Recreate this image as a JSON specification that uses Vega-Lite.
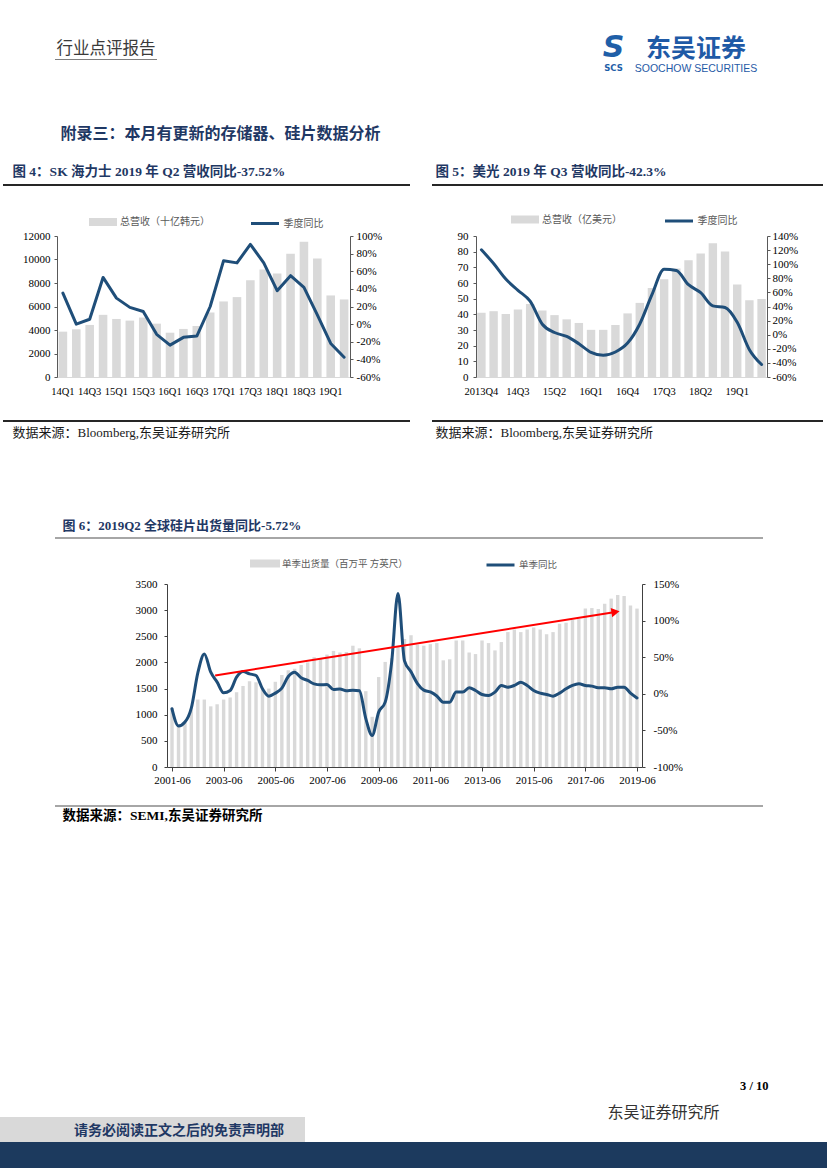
{
 "$schema": "https://vega.github.io/schema/vega-lite/v6.json",
 "background": "white",
 "padding": 0,
 "bounds": "full",
 "spacing": 0,
 "resolve": {"legend": {"fill": "independent", "stroke": "independent"}, "scale": {"fill": "independent", "stroke": "independent"}},
 "config": {"view": {"stroke": null}, "concat": {"spacing": 0}, "font": "Noto Sans CJK SC"},
 "vconcat": [
  {"width": 827, "height": 32, "data": {"values": []}, "mark": "point", "encoding": {}},
  {"hconcat": [
    {"width": 55, "height": 1, "data": {"values": []}, "mark": "point", "encoding": {}},
    {"width": 102, "height": 1, "view": {"fill": "#7f7f7f", "stroke": null}, "data": {"values": [{"t": "行业点评报告"}]}, "mark": {"type": "text", "align": "center", "baseline": "middle", "dy": -10.5, "font": "Noto Sans CJK SC", "fontSize": 16.5, "fill": "#3a3a3a"}, "encoding": {"text": {"field": "t"}}},
    {"width": 440, "height": 1, "data": {"values": []}, "mark": "point", "encoding": {}},
    {"width": 33, "height": 1, "layer": [
      {"data": {"values": [{"t": "S"}]}, "mark": {"type": "text", "align": "center", "baseline": "middle", "dy": -12, "font": "DejaVu Sans", "fontWeight": "bold", "fontStyle": "italic", "fontSize": 30, "fill": "#1f5fa8"}, "encoding": {"text": {"field": "t"}}},
      {"data": {"values": [{"t": "SCS"}]}, "mark": {"type": "text", "align": "center", "baseline": "middle", "dy": 8, "font": "DejaVu Sans", "fontWeight": "bold", "fontSize": 8.5, "fill": "#1f5fa8"}, "encoding": {"text": {"field": "t"}}}
    ]},
    {"width": 2, "height": 1, "data": {"values": []}, "mark": "point", "encoding": {}},
    {"width": 128, "height": 1, "layer": [
      {"data": {"values": [{"t": "东吴证券"}]}, "mark": {"type": "text", "align": "center", "baseline": "middle", "dy": -11, "font": "Noto Sans CJK SC", "fontWeight": "bold", "fontSize": 25, "fill": "#1f5aa6"}, "encoding": {"text": {"field": "t"}}},
      {"data": {"values": [{"t": "SOOCHOW SECURITIES"}]}, "mark": {"type": "text", "align": "center", "baseline": "middle", "dy": 9, "font": "Liberation Sans", "fontSize": 10.5, "fill": "#1f5aa6"}, "encoding": {"text": {"field": "t"}}}
    ]}
  ], "spacing": 0, "bounds": "flush"},
  {"width": 1, "height": 50.75, "data": {"values": []}, "mark": "point", "encoding": {}},
  {"hconcat": [
    {"width": 60, "height": 1, "data": {"values": []}, "mark": "point", "encoding": {}},
    {"width": 1, "height": 1, "data": {"values": [{"t": "附录三：本月有更新的存储器、硅片数据分析"}]}, "mark": {"type": "text", "align": "left", "baseline": "middle", "font": "Noto Sans CJK SC", "fontWeight": "bold", "fontSize": 16, "fill": "#1f3864"}, "encoding": {"text": {"field": "t"}}}
  ], "spacing": 0, "bounds": "flush"},
  {"width": 1, "height": 21.75, "data": {"values": []}, "mark": "point", "encoding": {}},
  {"hconcat": [
    {"width": 12, "height": 1, "data": {"values": []}, "mark": "point", "encoding": {}},
    {"width": 1, "height": 1, "data": {"values": [{"t": "图 4：SK 海力士 2019 年 Q2 营收同比-37.52%"}]}, "mark": {"type": "text", "align": "left", "baseline": "middle", "font": "Liberation Serif, Noto Sans CJK SC", "fontWeight": "bold", "fontSize": 13.5, "fill": "#1f3864"}, "encoding": {"text": {"field": "t"}}},
    {"width": 422, "height": 1, "data": {"values": []}, "mark": "point", "encoding": {}},
    {"width": 1, "height": 1, "data": {"values": [{"t": "图 5：美光 2019 年 Q3 营收同比-42.3%"}]}, "mark": {"type": "text", "align": "left", "baseline": "middle", "font": "Liberation Serif, Noto Sans CJK SC", "fontWeight": "bold", "fontSize": 13.5, "fill": "#1f3864"}, "encoding": {"text": {"field": "t"}}}
  ], "spacing": 0, "bounds": "flush"},
  {"width": 1, "height": 5.25, "data": {"values": []}, "mark": "point", "encoding": {}},
  {"hconcat": [
    {"width": 3, "height": 2, "data": {"values": []}, "mark": "point", "encoding": {}},
    {"width": 407, "height": 2, "view": {"fill": "#262626", "stroke": null}, "data": {"values": []}, "mark": "point", "encoding": {}},
    {"width": 22, "height": 2, "data": {"values": []}, "mark": "point", "encoding": {}},
    {"width": 391, "height": 2, "view": {"fill": "#262626", "stroke": null}, "data": {"values": []}, "mark": "point", "encoding": {}}
  ], "spacing": 0, "bounds": "flush"},
  {"width": 1, "height": 28, "data": {"values": []}, "mark": "point", "encoding": {}},
  {"hconcat": [
    {"width": 57, "height": 184, "data": {"values": []}, "mark": "point", "encoding": {}},
    {
     "width": 293, "height": 141,
     "data": {"values": [
      {"q": "14Q1", "rev": 3860, "yoy": 0.352},
      {"q": "14Q2", "rev": 4060, "yoy": 0.0},
      {"q": "14Q3", "rev": 4430, "yoy": 0.055},
      {"q": "14Q4", "rev": 5290, "yoy": 0.53},
      {"q": "15Q1", "rev": 4940, "yoy": 0.295},
      {"q": "15Q2", "rev": 4800, "yoy": 0.19},
      {"q": "15Q3", "rev": 5060, "yoy": 0.143},
      {"q": "15Q4", "rev": 4540, "yoy": -0.116},
      {"q": "16Q1", "rev": 3770, "yoy": -0.238},
      {"q": "16Q2", "rev": 4090, "yoy": -0.15},
      {"q": "16Q3", "rev": 4340, "yoy": -0.135},
      {"q": "16Q4", "rev": 5490, "yoy": 0.2},
      {"q": "17Q1", "rev": 6430, "yoy": 0.72},
      {"q": "17Q2", "rev": 6800, "yoy": 0.695},
      {"q": "17Q3", "rev": 8230, "yoy": 0.905},
      {"q": "17Q4", "rev": 9140, "yoy": 0.695},
      {"q": "18Q1", "rev": 8800, "yoy": 0.38},
      {"q": "18Q2", "rev": 10490, "yoy": 0.55},
      {"q": "18Q3", "rev": 11510, "yoy": 0.417},
      {"q": "18Q4", "rev": 10090, "yoy": 0.105},
      {"q": "19Q1", "rev": 6940, "yoy": -0.219},
      {"q": "19Q2", "rev": 6600, "yoy": -0.3752}
     ]},
     "encoding": {"x": {"field": "q", "type": "ordinal", "sort": null, "scale": {"paddingInner": 0.36, "paddingOuter": 0.12},
       "axis": {"title": null, "values": ["14Q1","14Q3","15Q1","15Q3","16Q1","16Q3","17Q1","17Q3","18Q1","18Q3","19Q1"], "labelAngle": 0, "labelFont": "Liberation Serif", "labelFontSize": 10.5, "labelColor": "#000000", "ticks": false, "tickSize": 0, "labelPadding": 9, "domainColor": "#d9d9d9", "labelOverlap": false}}},
     "layer": [
      {"mark": {"type": "bar"},
       "encoding": {
        "y": {"field": "rev", "type": "quantitative", "scale": {"domain": [0, 12000], "nice": false},
          "axis": {"title": null, "values": [0,2000,4000,6000,8000,10000,12000], "format": "d", "grid": false, "labelFont": "Liberation Serif", "labelFontSize": 11, "labelColor": "#000000", "domainColor": "#595959", "tickColor": "#595959", "tickSize": 3, "labelPadding": 4}},
        "fill": {"datum": "总营收（十亿韩元）", "type": "nominal", "scale": {"range": ["#d9d9d9"]},
          "legend": {"orient": "none", "legendX": 41, "legendY": -19, "title": null, "direction": "horizontal", "symbolType": "M-2.8,-0.8H2.8V0.8H-2.8Z", "symbolSize": 100, "symbolStrokeWidth": 0, "labelFont": "Noto Sans CJK SC", "labelFontSize": 10, "labelColor": "#595959", "labelOffset": 12, "padding": 0}}
       }},
      {"mark": {"type": "line", "strokeWidth": 3, "strokeJoin": "round", "strokeCap": "round"},
       "encoding": {
        "y": {"field": "yoy", "type": "quantitative", "scale": {"domain": [-0.6, 1], "nice": false},
          "axis": {"orient": "right", "title": null, "values": [-0.6,-0.4,-0.2,0,0.2,0.4,0.6,0.8,1], "labelExpr": "replace(format(datum.value, '.0%'), '−', '-')", "grid": false, "labelFont": "Liberation Serif", "labelFontSize": 11, "labelColor": "#000000", "domainColor": "#595959", "tickColor": "#595959", "tickSize": 3, "labelPadding": 3}},
        "stroke": {"datum": "季度同比", "type": "nominal", "scale": {"range": ["#1f4e79"]},
          "legend": {"orient": "none", "legendX": 201.5, "legendY": -19, "title": null, "direction": "horizontal", "symbolType": "M-2.8,0H2.8", "symbolSize": 100, "symbolStrokeWidth": 3, "labelFont": "Noto Sans CJK SC", "labelFontSize": 10, "labelColor": "#595959", "labelOffset": 12, "padding": 0}}
       }}
     ],
     "resolve": {"scale": {"y": "independent"}}
    },
    {"width": 126, "height": 1, "data": {"values": []}, "mark": "point", "encoding": {}},
    {
     "width": 291, "height": 141,
     "data": {"values": [
      {"q": "2013Q4", "rev": 41.0, "yoy": 1.204},
      {"q": "14Q1", "rev": 42.0, "yoy": 1.01},
      {"q": "14Q2", "rev": 40.2, "yoy": 0.79},
      {"q": "14Q3", "rev": 43.1, "yoy": 0.63},
      {"q": "14Q4", "rev": 46.6, "yoy": 0.475},
      {"q": "15Q1", "rev": 42.4, "yoy": 0.148},
      {"q": "15Q2", "rev": 39.5, "yoy": 0.031},
      {"q": "15Q3", "rev": 36.8, "yoy": -0.025},
      {"q": "15Q4", "rev": 34.5, "yoy": -0.128},
      {"q": "16Q1", "rev": 30.1, "yoy": -0.25},
      {"q": "16Q2", "rev": 30.1, "yoy": -0.292},
      {"q": "16Q3", "rev": 33.2, "yoy": -0.245},
      {"q": "16Q4", "rev": 40.6, "yoy": -0.119},
      {"q": "17Q1", "rev": 47.3, "yoy": 0.152},
      {"q": "17Q2", "rev": 56.8, "yoy": 0.568},
      {"q": "17Q3", "rev": 62.4, "yoy": 0.928},
      {"q": "17Q4", "rev": 69.2, "yoy": 0.91},
      {"q": "18Q1", "rev": 74.6, "yoy": 0.709},
      {"q": "18Q2", "rev": 78.8, "yoy": 0.596},
      {"q": "18Q3", "rev": 85.4, "yoy": 0.409},
      {"q": "18Q4", "rev": 80.1, "yoy": 0.386},
      {"q": "19Q1", "rev": 59.1, "yoy": 0.176},
      {"q": "19Q2", "rev": 49.0, "yoy": -0.212},
      {"q": "19Q3", "rev": 49.8, "yoy": -0.423}
     ]},
     "encoding": {"x": {"field": "q", "type": "ordinal", "sort": null, "scale": {"paddingInner": 0.31, "paddingOuter": 0.1},
       "axis": {"title": null, "values": ["2013Q4","14Q3","15Q2","16Q1","16Q4","17Q3","18Q2","19Q1"], "labelAngle": 0, "labelFont": "Liberation Serif", "labelFontSize": 10.5, "labelColor": "#000000", "ticks": false, "tickSize": 0, "labelPadding": 9, "domainColor": "#d9d9d9", "labelOverlap": false}}},
     "layer": [
      {"mark": {"type": "bar"},
       "encoding": {
        "y": {"field": "rev", "type": "quantitative", "scale": {"domain": [0, 90], "nice": false},
          "axis": {"title": null, "values": [0,10,20,30,40,50,60,70,80,90], "format": "d", "grid": false, "labelFont": "Liberation Serif", "labelFontSize": 11, "labelColor": "#000000", "domainColor": "#595959", "tickColor": "#595959", "tickSize": 3, "labelPadding": 5}},
        "fill": {"datum": "总营收（亿美元）", "type": "nominal", "scale": {"range": ["#d9d9d9"]},
          "legend": {"orient": "none", "legendX": 44, "legendY": -21.5, "title": null, "direction": "horizontal", "symbolType": "M-2.8,-0.8H2.8V0.8H-2.8Z", "symbolSize": 100, "symbolStrokeWidth": 0, "labelFont": "Noto Sans CJK SC", "labelFontSize": 10, "labelColor": "#595959", "labelOffset": 12, "padding": 0}}
       }},
      {"mark": {"type": "line", "strokeWidth": 3, "interpolate": "monotone", "strokeJoin": "round", "strokeCap": "round"},
       "encoding": {
        "y": {"field": "yoy", "type": "quantitative", "scale": {"domain": [-0.6, 1.4], "nice": false},
          "axis": {"orient": "right", "title": null, "values": [-0.6,-0.4,-0.2,0,0.2,0.4,0.6,0.8,1,1.2,1.4], "labelExpr": "replace(format(datum.value, '.0%'), '−', '-')", "grid": false, "labelFont": "Liberation Serif", "labelFontSize": 11, "labelColor": "#000000", "domainColor": "#595959", "tickColor": "#595959", "tickSize": 3, "labelPadding": 2}},
        "stroke": {"datum": "季度同比", "type": "nominal", "scale": {"range": ["#1f4e79"]},
          "legend": {"orient": "none", "legendX": 196.5, "legendY": -21.5, "title": null, "direction": "horizontal", "symbolType": "M-2.8,0H2.8", "symbolSize": 100, "symbolStrokeWidth": 3, "labelFont": "Noto Sans CJK SC", "labelFontSize": 10, "labelColor": "#595959", "labelOffset": 12, "padding": 0}}
       }}
     ],
     "resolve": {"scale": {"y": "independent"}}
    }
  ], "spacing": 0, "bounds": "flush", "resolve": {"legend": {"fill": "independent", "stroke": "independent"}, "scale": {"fill": "independent", "stroke": "independent"}}},
  {"hconcat": [
    {"width": 3, "height": 2, "data": {"values": []}, "mark": "point", "encoding": {}},
    {"width": 407, "height": 2, "view": {"fill": "#262626", "stroke": null}, "data": {"values": []}, "mark": "point", "encoding": {}},
    {"width": 22, "height": 2, "data": {"values": []}, "mark": "point", "encoding": {}},
    {"width": 391, "height": 2, "view": {"fill": "#262626", "stroke": null}, "data": {"values": []}, "mark": "point", "encoding": {}}
  ], "spacing": 0, "bounds": "flush"},
  {"width": 1, "height": 4, "data": {"values": []}, "mark": "point", "encoding": {}},
  {"hconcat": [
    {"width": 12, "height": 1, "data": {"values": []}, "mark": "point", "encoding": {}},
    {"width": 1, "height": 1, "data": {"values": [{"t": "数据来源：Bloomberg,东吴证券研究所"}]}, "mark": {"type": "text", "align": "left", "baseline": "middle", "font": "Liberation Serif, Noto Sans CJK SC", "fontSize": 13, "fill": "#1a1a1a"}, "encoding": {"text": {"field": "t"}}},
    {"width": 422, "height": 1, "data": {"values": []}, "mark": "point", "encoding": {}},
    {"width": 1, "height": 1, "data": {"values": [{"t": "数据来源：Bloomberg,东吴证券研究所"}]}, "mark": {"type": "text", "align": "left", "baseline": "middle", "font": "Liberation Serif, Noto Sans CJK SC", "fontSize": 13, "fill": "#1a1a1a"}, "encoding": {"text": {"field": "t"}}}
  ], "spacing": 0, "bounds": "flush"},
  {"width": 1, "height": 79, "data": {"values": []}, "mark": "point", "encoding": {}},
  {"hconcat": [
    {"width": 62, "height": 1, "data": {"values": []}, "mark": "point", "encoding": {}},
    {"width": 1, "height": 1, "data": {"values": [{"t": "图 6：2019Q2 全球硅片出货量同比-5.72%"}]}, "mark": {"type": "text", "align": "left", "baseline": "middle", "font": "Liberation Serif, Noto Sans CJK SC", "fontWeight": "bold", "fontSize": 13, "fill": "#1f3864"}, "encoding": {"text": {"field": "t"}}}
  ], "spacing": 0, "bounds": "flush"},
  {"width": 1, "height": 3.5, "data": {"values": []}, "mark": "point", "encoding": {}},
  {"hconcat": [
    {"width": 55, "height": 2, "data": {"values": []}, "mark": "point", "encoding": {}},
    {"width": 708, "height": 2, "view": {"fill": "#a6a6a6", "stroke": null}, "data": {"values": []}, "mark": "point", "encoding": {}}
  ], "spacing": 0, "bounds": "flush"},
  {"width": 1, "height": 19, "data": {"values": []}, "mark": "point", "encoding": {}},
  {"hconcat": [
    {"width": 167, "height": 221, "data": {"values": []}, "mark": "point", "encoding": {}},
    {
     "width": 475, "height": 183,
     "data": {"values": [
      {"t": "2001-06", "v": 1130, "yoy": -0.205},
      {"t": "2001-09", "v": 820, "yoy": -0.44},
      {"t": "2001-12", "v": 850, "yoy": -0.386},
      {"t": "2002-03", "v": 1100, "yoy": -0.195},
      {"t": "2002-06", "v": 1290, "yoy": 0.286},
      {"t": "2002-09", "v": 1290, "yoy": 0.545},
      {"t": "2002-12", "v": 1160, "yoy": 0.295},
      {"t": "2003-03", "v": 1200, "yoy": 0.16},
      {"t": "2003-06", "v": 1290, "yoy": 0.014},
      {"t": "2003-09", "v": 1330, "yoy": 0.045},
      {"t": "2003-12", "v": 1430, "yoy": 0.227},
      {"t": "2004-03", "v": 1550, "yoy": 0.305},
      {"t": "2004-06", "v": 1640, "yoy": 0.273},
      {"t": "2004-09", "v": 1620, "yoy": 0.25},
      {"t": "2004-12", "v": 1480, "yoy": 0.068},
      {"t": "2005-03", "v": 1500, "yoy": -0.032},
      {"t": "2005-06", "v": 1630, "yoy": 0.009},
      {"t": "2005-09", "v": 1760, "yoy": 0.077},
      {"t": "2005-12", "v": 1850, "yoy": 0.236},
      {"t": "2006-03", "v": 1880, "yoy": 0.295},
      {"t": "2006-06", "v": 1950, "yoy": 0.218},
      {"t": "2006-09", "v": 2000, "yoy": 0.182},
      {"t": "2006-12", "v": 2100, "yoy": 0.136},
      {"t": "2007-03", "v": 2080, "yoy": 0.123},
      {"t": "2007-06", "v": 2150, "yoy": 0.127},
      {"t": "2007-09", "v": 2220, "yoy": 0.059},
      {"t": "2007-12", "v": 2190, "yoy": 0.064},
      {"t": "2008-03", "v": 2200, "yoy": 0.041},
      {"t": "2008-06", "v": 2320, "yoy": 0.05},
      {"t": "2008-09", "v": 2270, "yoy": 0.041},
      {"t": "2008-12", "v": 1450, "yoy": -0.34},
      {"t": "2009-03", "v": 960, "yoy": -0.568},
      {"t": "2009-06", "v": 1720, "yoy": -0.25},
      {"t": "2009-09", "v": 2010, "yoy": -0.114},
      {"t": "2009-12", "v": 2080, "yoy": 0.43},
      {"t": "2010-03", "v": 2300, "yoy": 1.37},
      {"t": "2010-06", "v": 2450, "yoy": 0.45},
      {"t": "2010-09", "v": 2520, "yoy": 0.3},
      {"t": "2010-12", "v": 2340, "yoy": 0.14},
      {"t": "2011-03", "v": 2320, "yoy": 0.05},
      {"t": "2011-06", "v": 2350, "yoy": 0.025},
      {"t": "2011-09", "v": 2370, "yoy": -0.03},
      {"t": "2011-12", "v": 2040, "yoy": -0.114},
      {"t": "2012-03", "v": 2060, "yoy": -0.114},
      {"t": "2012-06", "v": 2420, "yoy": 0.023},
      {"t": "2012-09", "v": 2420, "yoy": 0.023},
      {"t": "2012-12", "v": 2190, "yoy": 0.082},
      {"t": "2013-03", "v": 2160, "yoy": 0.045},
      {"t": "2013-06", "v": 2420, "yoy": -0.01},
      {"t": "2013-09", "v": 2370, "yoy": -0.023},
      {"t": "2013-12", "v": 2230, "yoy": 0.023},
      {"t": "2014-03", "v": 2390, "yoy": 0.114},
      {"t": "2014-06", "v": 2580, "yoy": 0.091},
      {"t": "2014-09", "v": 2630, "yoy": 0.114},
      {"t": "2014-12", "v": 2580, "yoy": 0.159},
      {"t": "2015-03", "v": 2630, "yoy": 0.114},
      {"t": "2015-06", "v": 2670, "yoy": 0.045},
      {"t": "2015-09", "v": 2630, "yoy": 0.009},
      {"t": "2015-12", "v": 2540, "yoy": -0.009},
      {"t": "2016-03", "v": 2580, "yoy": -0.032},
      {"t": "2016-06", "v": 2740, "yoy": 0.009},
      {"t": "2016-09", "v": 2760, "yoy": 0.068},
      {"t": "2016-12", "v": 2810, "yoy": 0.114},
      {"t": "2017-03", "v": 2830, "yoy": 0.136},
      {"t": "2017-06", "v": 3030, "yoy": 0.114},
      {"t": "2017-09", "v": 3040, "yoy": 0.105},
      {"t": "2017-12", "v": 3020, "yoy": 0.082},
      {"t": "2018-03", "v": 3120, "yoy": 0.082},
      {"t": "2018-06", "v": 3220, "yoy": 0.068},
      {"t": "2018-09", "v": 3290, "yoy": 0.091},
      {"t": "2018-12", "v": 3270, "yoy": 0.091},
      {"t": "2019-03", "v": 3090, "yoy": 0.009},
      {"t": "2019-06", "v": 3030, "yoy": -0.0572}
     ]},
     "encoding": {"x": {"field": "t", "type": "temporal",
       "scale": {"type": "utc", "domain": [{"year": 2001, "month": 6, "date": 1, "utc": true}, {"year": 2019, "month": 6, "date": 1, "utc": true}], "nice": false},
       "axis": {"title": null, "values": [
          {"year": 2001, "month": 6, "date": 1, "utc": true}, {"year": 2003, "month": 6, "date": 1, "utc": true}, {"year": 2005, "month": 6, "date": 1, "utc": true},
          {"year": 2007, "month": 6, "date": 1, "utc": true}, {"year": 2009, "month": 6, "date": 1, "utc": true}, {"year": 2011, "month": 6, "date": 1, "utc": true},
          {"year": 2013, "month": 6, "date": 1, "utc": true}, {"year": 2015, "month": 6, "date": 1, "utc": true}, {"year": 2017, "month": 6, "date": 1, "utc": true},
          {"year": 2019, "month": 6, "date": 1, "utc": true}],
         "labelExpr": "utcFormat(datum.value, '%Y-%m')", "labelAngle": 0, "labelFont": "Liberation Serif", "labelFontSize": 11, "labelColor": "#000000", "ticks": true, "tickSize": 4, "tickColor": "#404040", "domainColor": "#404040", "labelPadding": 3, "labelOverlap": false, "grid": false}}},
     "layer": [
      {"mark": {"type": "bar", "width": 3.4},
       "encoding": {
        "y": {"field": "v", "type": "quantitative", "scale": {"domain": [0, 3500], "nice": false},
          "axis": {"title": null, "values": [0,500,1000,1500,2000,2500,3000,3500], "format": "d", "grid": false, "labelFont": "Liberation Serif", "labelFontSize": 11, "labelColor": "#000000", "domainColor": "#404040", "tickColor": "#404040", "tickSize": 3, "labelPadding": 7}},
        "fill": {"datum": "单季出货量（百万平 方英尺）", "type": "nominal", "scale": {"range": ["#d9d9d9"]},
          "legend": {"orient": "none", "legendX": 93, "legendY": -25.5, "title": null, "direction": "horizontal", "symbolType": "M-3,-0.8H3V0.8H-3Z", "symbolSize": 100, "symbolStrokeWidth": 0, "labelFont": "Noto Sans CJK SC", "labelFontSize": 9.5, "labelColor": "#595959", "labelOffset": 12, "padding": 0}}
       }},
      {"mark": {"type": "line", "strokeWidth": 3, "interpolate": "monotone", "strokeJoin": "round", "strokeCap": "round"},
       "encoding": {
        "y": {"field": "yoy", "type": "quantitative", "scale": {"domain": [-1, 1.5], "nice": false},
          "axis": {"orient": "right", "title": null, "values": [-1,-0.5,0,0.5,1,1.5], "labelExpr": "replace(format(datum.value, '.0%'), '−', '-')", "grid": false, "labelFont": "Liberation Serif", "labelFontSize": 11, "labelColor": "#000000", "domainColor": "#404040", "tickColor": "#404040", "tickSize": 3, "labelPadding": 8}},
        "stroke": {"datum": "单季同比", "type": "nominal", "scale": {"range": ["#1f4e79"]},
          "legend": {"orient": "none", "legendX": 327, "legendY": -25.5, "title": null, "direction": "horizontal", "symbolType": "M-2.8,0H2.8", "symbolSize": 100, "symbolStrokeWidth": 3, "labelFont": "Noto Sans CJK SC", "labelFontSize": 9.5, "labelColor": "#595959", "labelOffset": 12, "padding": 0}}
       }},
      {"layer": [
        {"data": {"values": [{"t": "2003-02", "v": 1750}, {"t": "2018-08", "v": 2965}]},
         "mark": {"type": "line", "color": "#ff0000", "strokeWidth": 2},
         "encoding": {"y": {"field": "v", "type": "quantitative", "scale": {"domain": [0, 3500], "nice": false}, "axis": null}}},
        {"data": {"values": [{"t": "2018-08", "v": 2965}]},
         "mark": {"type": "point", "shape": "triangle-right", "filled": true, "color": "#ff0000", "opacity": 1, "size": 90, "angle": 351},
         "encoding": {"y": {"field": "v", "type": "quantitative", "scale": {"domain": [0, 3500], "nice": false}, "axis": null}}}
      ]}
     ],
     "resolve": {"scale": {"y": "independent"}}
    }
  ], "spacing": 0, "bounds": "flush", "resolve": {"legend": {"fill": "independent", "stroke": "independent"}, "scale": {"fill": "independent", "stroke": "independent"}}},
  {"hconcat": [
    {"width": 55, "height": 2, "data": {"values": []}, "mark": "point", "encoding": {}},
    {"width": 708, "height": 2, "view": {"fill": "#a6a6a6", "stroke": null}, "data": {"values": []}, "mark": "point", "encoding": {}}
  ], "spacing": 0, "bounds": "flush"},
  {"width": 1, "height": 0.25, "data": {"values": []}, "mark": "point", "encoding": {}},
  {"hconcat": [
    {"width": 62, "height": 1, "data": {"values": []}, "mark": "point", "encoding": {}},
    {"width": 1, "height": 1, "data": {"values": [{"t": "数据来源：SEMI,东吴证券研究所"}]}, "mark": {"type": "text", "align": "left", "baseline": "middle", "font": "Liberation Serif, Noto Sans CJK SC", "fontWeight": "bold", "fontSize": 13.5, "fill": "#000000"}, "encoding": {"text": {"field": "t"}}}
  ], "spacing": 0, "bounds": "flush"},
  {"width": 1, "height": 256.5, "data": {"values": []}, "mark": "point", "encoding": {}},
  {"hconcat": [
    {"width": 768, "height": 1, "data": {"values": []}, "mark": "point", "encoding": {}},
    {"width": 1, "height": 1, "data": {"values": [{"t": "3 / 10"}]}, "mark": {"type": "text", "align": "right", "baseline": "middle", "font": "Liberation Serif", "fontWeight": "bold", "fontSize": 12.5, "fill": "#000000"}, "encoding": {"text": {"field": "t"}}}
  ], "spacing": 0, "bounds": "flush"},
  {"width": 1, "height": 11.75, "data": {"values": []}, "mark": "point", "encoding": {}},
  {"hconcat": [
    {"width": 305, "height": 25, "view": {"fill": "#d9d9d9", "stroke": null}, "data": {"values": [{"t": "请务必阅读正文之后的免责声明部"}]}, "mark": {"type": "text", "align": "center", "baseline": "middle", "dx": 26.5, "dy": 1.5, "font": "Noto Sans CJK SC", "fontWeight": "bold", "fontSize": 14, "fill": "#1f3864"}, "encoding": {"text": {"field": "t"}}},
    {"width": 302, "height": 1, "data": {"values": []}, "mark": "point", "encoding": {}},
    {"width": 1, "height": 1, "data": {"values": [{"t": "东吴证券研究所"}]}, "mark": {"type": "text", "align": "left", "baseline": "middle", "dy": -5, "font": "Noto Sans CJK SC", "fontSize": 16, "fill": "#333333"}, "encoding": {"text": {"field": "t"}}}
  ], "spacing": 0, "bounds": "flush"},
  {"width": 827, "height": 26, "view": {"fill": "#1c3a5e", "stroke": null}, "data": {"values": []}, "mark": "point", "encoding": {}}
 ]
}
